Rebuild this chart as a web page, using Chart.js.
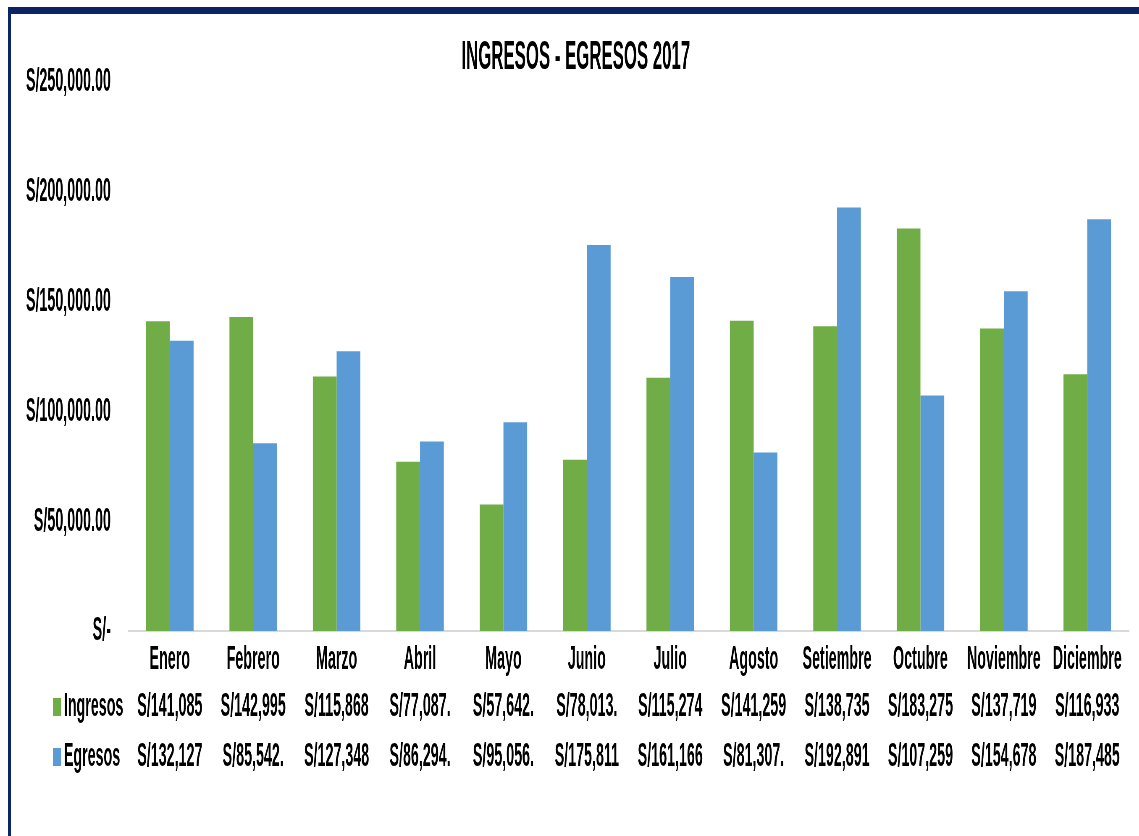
<!DOCTYPE html>
<html>
<head>
<meta charset="utf-8">
<title>Ingresos - Egresos 2017</title>
<script src="https://cdn.jsdelivr.net/npm/chart.js@4/dist/chart.umd.min.js"></script>
<style>
    html, body { margin: 0; padding: 0; background: #fff; overflow: hidden; }
    /* el gráfico se dibuja ancho y se comprime en horizontal */
    #lienzo { position: absolute; left: 0; top: 0; width: 2712px; height: 836px; transform: scaleX(0.42); transform-origin: 0 0; }
    .borde { position: absolute; background: #0b2466; }
</style>
</head>
<body>
<div id="lienzo"><canvas id="grafico"></canvas></div>
<div class="borde" style="left:8px; top:7px; right:0; height:7px;"></div>
<div class="borde" style="left:8px; top:7px; width:3px; bottom:0;"></div>
<script>
const meses = ["Enero", "Febrero", "Marzo", "Abril", "Mayo", "Junio", "Julio", "Agosto", "Setiembre", "Octubre", "Noviembre", "Diciembre"];
const ingresos = [141085, 142995, 115868, 77087, 57642, 78013, 115274, 141259, 138735, 183275, 137719, 116933];
const egresos = [132127, 85542, 127348, 86294, 95056, 175811, 161166, 81307, 192891, 107259, 154678, 187485];
const etiquetasY = ["S/-", "S/50,000.00", "S/100,000.00", "S/150,000.00", "S/200,000.00", "S/250,000.00"];

const verde = "#70AD47";
const azul = "#5B9BD5";
const fuente = "'Liberation Sans', Arial, sans-serif";

// la celda de la tabla corta el texto a 9 caracteres
function textoTabla(valor) {
    const t = "S/" + valor.toLocaleString("en-US", { minimumFractionDigits: 2, maximumFractionDigits: 2 });
    return t.slice(0, 9);
}

// tabla de datos debajo del eje X
const tablaDatos = {
    id: "tablaDatos",
    afterDraw(chart) {
        const ctx = chart.ctx;
        const ejeX = chart.scales.x;
        const base = chart.chartArea.bottom;
        const filas = [
            { nombre: "Ingresos", color: verde, datos: ingresos, y: base + 76 },
            { nombre: "Egresos", color: azul, datos: egresos, y: base + 126 }
        ];
        ctx.save();
        ctx.font = "bold 34px " + fuente;
        ctx.textBaseline = "middle";
        filas.forEach(fila => {
            ctx.fillStyle = fila.color;
            ctx.fillRect(126, fila.y - 9, 19, 18);
            ctx.fillStyle = "#000";
            ctx.textAlign = "left";
            ctx.fillText(fila.nombre, 152, fila.y);
            ctx.textAlign = "center";
            fila.datos.forEach((v, i) => {
                ctx.fillText(textoTabla(v), ejeX.getPixelForValue(i), fila.y);
            });
        });
        ctx.restore();
    }
};

const ctx = document.getElementById("grafico").getContext("2d");
new Chart(ctx, {
    type: "bar",
    data: {
        labels: meses,
        datasets: [
            { label: "Ingresos", data: ingresos, backgroundColor: verde, categoryPercentage: 0.57, barPercentage: 1 },
            { label: "Egresos", data: egresos, backgroundColor: azul, categoryPercentage: 0.57, barPercentage: 1 }
        ]
    },
    options: {
        responsive: true,
        maintainAspectRatio: false,
        animation: false,
        layout: { padding: { left: 54, right: 24, top: 0, bottom: 0 } },
        plugins: {
            legend: { display: false },
            tooltip: { enabled: false },
            title: {
                display: true,
                text: "INGRESOS - EGRESOS 2017",
                color: "#000",
                font: { family: fuente, size: 40, weight: "bold" },
                padding: { top: 34, bottom: 0 }
            }
        },
        scales: {
            x: {
                grid: { display: false, drawTicks: false },
                border: { display: true, color: "#D9D9D9", width: 2 },
                ticks: {
                    color: "#000",
                    font: { family: fuente, size: 34, weight: "bold" },
                    padding: 8,
                    maxRotation: 0,
                    autoSkip: false
                },
                afterFit(escala) { escala.height = 205; }
            },
            y: {
                min: 0,
                max: 250000,
                grid: { display: false, drawTicks: false },
                border: { display: false },
                ticks: {
                    stepSize: 50000,
                    color: "#000",
                    font: { family: fuente, size: 34, weight: "bold" },
                    padding: 41,
                    callback: v => etiquetasY[Math.round(v / 50000)]
                },
                afterFit(escala) { escala.width = 251; }
            }
        }
    },
    plugins: [tablaDatos]
});
</script>
</body>
</html>
